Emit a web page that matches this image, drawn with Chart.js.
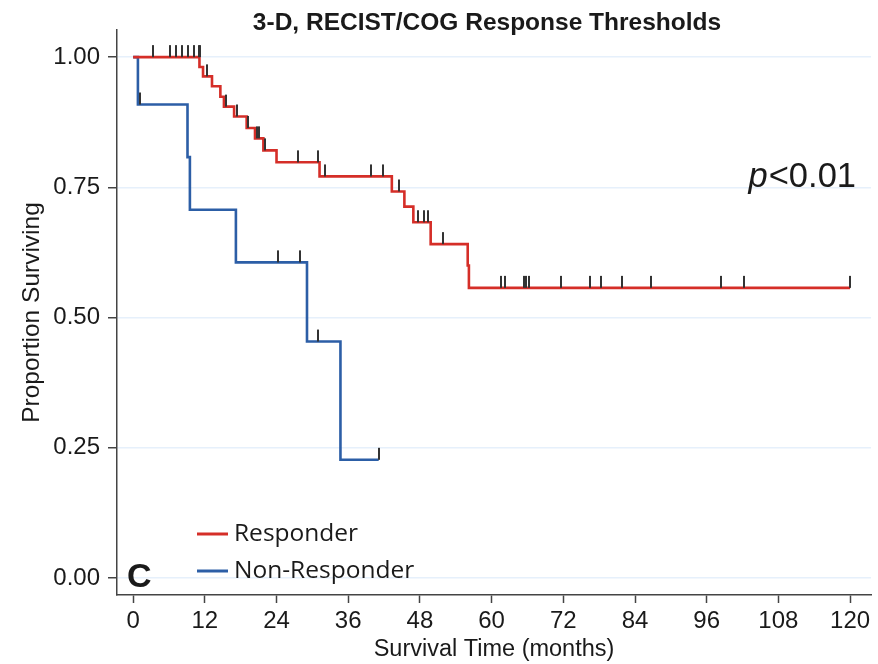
<!DOCTYPE html>
<html>
<head>
<meta charset="utf-8">
<title>3-D, RECIST/COG Response Thresholds</title>
<script src="https://cdn.jsdelivr.net/npm/chart.js@4.4.1/dist/chart.umd.min.js"></script>
<style>
  html, body { margin: 0; padding: 0; background: #fff; }
  #wrap { width: 878px; height: 664px; position: relative; }
</style>
</head>
<body>
<div id="wrap"><canvas id="kmChart"></canvas></div>
<script>
// Chart texts
const chartTitle = '3-D, RECIST/COG Response Thresholds';
const xTitle = 'Survival Time (months)';
const yTitle = 'Proportion Surviving';
const seriesNames = ['Responder', 'Non-Responder'];
const pText = ['p', '<0.01'];
const panelLetter = 'C';

// Tick labels
const xTicks = [0, 12, 24, 36, 48, 60, 72, 84, 96, 108, 120];
const yTicks = [0, 0.25, 0.5, 0.75, 1];

// Responder curve (time of each step, survival after the step)
const respTimes = [0, 11.1, 11.7, 13.2, 14.6, 15.2, 16.9, 19.0, 20.4, 21.8, 24.0, 31.2, 43.3, 45.4, 46.9, 49.8, 56.0, 56.2, 120];
const respSurv  = [1.0, 0.981, 0.963, 0.944, 0.924, 0.905, 0.886, 0.864, 0.844, 0.821, 0.798, 0.771, 0.742, 0.713, 0.683, 0.641, 0.600, 0.557, 0.557];

// Responder censored cases
const respCensorTimes = [3.4, 6.2, 7.2, 8.2, 9.2, 10.2, 11.0, 11.2, 12.3, 15.5, 17.4, 19.3, 20.8, 21.1, 22.1, 27.6, 31.0, 32.1, 39.8, 41.9, 44.5, 47.6, 48.7, 49.3, 51.9, 61.5, 62.3, 65.4, 65.8, 66.3, 71.6, 76.4, 78.3, 81.8, 86.6, 98.4, 102.3, 120.0];
const respCensorSurv  = [1, 1, 1, 1, 1, 1, 1, 1, 0.963, 0.905, 0.886, 0.864, 0.844, 0.844, 0.821, 0.798, 0.798, 0.771, 0.771, 0.771, 0.742, 0.683, 0.683, 0.683, 0.641, 0.557, 0.557, 0.557, 0.557, 0.557, 0.557, 0.557, 0.557, 0.557, 0.557, 0.557, 0.557, 0.557];

// Non-responder curve
const nonTimes = [0, 0.8, 9.1, 9.5, 17.2, 29.1, 34.7, 41.1];
const nonSurv  = [1.0, 0.909, 0.808, 0.707, 0.606, 0.454, 0.227, 0.227];

// Non-responder censored cases
const nonCensorTimes = [1.2, 24.3, 27.9, 30.9, 41.1];
const nonCensorSurv  = [0.909, 0.606, 0.606, 0.454, 0.227];

const red = 'rgb(213, 46, 40)';
const blue = 'rgb(44, 94, 166)';
const tickDark = '#333';

// build {x, y} points
function toPoints(xs, ys) {
    return xs.map((x, i) => ({ x: x, y: ys[i] }));
}

// small vertical mark sitting on top of the curve
function censorMark() {
    let c = document.createElement('canvas');
    c.width = 2;
    c.height = 26;
    let g = c.getContext('2d');
    g.fillStyle = tickDark;
    g.fillRect(0, 1, 2, 12);
    return c;
}
const mark = censorMark();

// titles, legend and annotation drawn on the canvas
const extraText = {
    id: 'extraText',
    afterDraw(chart) {
        const ctx = chart.ctx;
        const area = chart.chartArea;
        ctx.save();
        ctx.fillStyle = '#1a1a1a';

        // title
        ctx.font = 'bold 24.5px "Liberation Sans", Arial, sans-serif';
        ctx.textAlign = 'center';
        ctx.textBaseline = 'alphabetic';
        ctx.fillText(chartTitle, 487, 30);

        // p value
        ctx.textAlign = 'left';
        ctx.font = 'italic 34.5px "Liberation Sans", Arial, sans-serif';
        let pw = ctx.measureText(pText[0]).width;
        ctx.font = '34.5px "Liberation Sans", Arial, sans-serif';
        let rw = ctx.measureText(pText[1]).width;
        let px = 855 - pw - rw;
        ctx.font = 'italic 34.5px "Liberation Sans", Arial, sans-serif';
        ctx.fillText(pText[0], px, 187);
        ctx.font = '34.5px "Liberation Sans", Arial, sans-serif';
        ctx.fillText(pText[1], px + pw + 1, 187);

        // panel letter
        ctx.font = 'bold 34px "Liberation Sans", Arial, sans-serif';
        ctx.fillText(panelLetter, area.left + 10, area.bottom - 8);

        // legend
        const colors = [red, blue];
        ctx.font = '24.5px "Open Sans", "Noto Sans", sans-serif';
        ctx.lineWidth = 3;
        seriesNames.forEach((name, i) => {
            let ly = area.bottom - 61 + i * 37;
            ctx.strokeStyle = colors[i];
            ctx.beginPath();
            ctx.moveTo(area.left + 80, ly);
            ctx.lineTo(area.left + 111, ly);
            ctx.stroke();
            ctx.fillStyle = '#1a1a1a';
            ctx.textBaseline = 'middle';
            ctx.fillText(name, area.left + 117, ly);
        });
        ctx.restore();
    }
};

new Chart(document.getElementById('kmChart'), {
    type: 'line',
    data: {
        datasets: [
            {
                label: seriesNames[0] + ' censored',
                type: 'scatter',
                data: toPoints(respCensorTimes, respCensorSurv),
                pointStyle: mark,
                pointRadius: 6,
                showLine: false
            },
            {
                label: seriesNames[1] + ' censored',
                type: 'scatter',
                data: toPoints(nonCensorTimes, nonCensorSurv),
                pointStyle: mark,
                pointRadius: 6,
                showLine: false
            },
            {
                label: seriesNames[0],
                data: toPoints(respTimes, respSurv),
                borderColor: red,
                borderWidth: 2.6,
                stepped: 'before',
                pointRadius: 0,
                fill: false
            },
            {
                label: seriesNames[1],
                data: toPoints(nonTimes, nonSurv),
                borderColor: blue,
                borderWidth: 2.6,
                stepped: 'before',
                pointRadius: 0,
                fill: false
            }
        ]
    },
    options: {
        responsive: true,
        maintainAspectRatio: false,
        animation: false,
        events: [],
        layout: { padding: { top: 30, right: 0, left: 0, bottom: 0 } },
        plugins: {
            legend: { display: false },
            title: { display: false },
            tooltip: { enabled: false }
        },
        scales: {
            x: {
                type: 'linear',
                min: -2.7,
                max: 123.5,
                afterBuildTicks: (scale) => { scale.ticks = xTicks.map(v => ({ value: v })); },
                afterFit: (scale) => {
                    scale.height = 69;
                    scale.paddingLeft = 0;
                    scale.paddingRight = 0;
                },
                ticks: {
                    autoSkip: false,
                    maxRotation: 0,
                    padding: 4,
                    color: '#1a1a1a',
                    font: { family: '"Liberation Sans", Arial, sans-serif', size: 24 }
                },
                grid: {
                    drawOnChartArea: false,
                    tickLength: 8,
                    tickColor: '#444',
                    tickWidth: 1.5
                },
                border: { color: '#444', width: 1.5 },
                title: {
                    display: true,
                    text: xTitle,
                    color: '#1a1a1a',
                    padding: { top: 0, bottom: 0 },
                    font: { family: '"Liberation Sans", Arial, sans-serif', size: 23.5 }
                }
            },
            y: {
                type: 'linear',
                min: -0.0326,
                max: 1.052,
                afterBuildTicks: (scale) => { scale.ticks = yTicks.map(v => ({ value: v })); },
                afterFit: (scale) => { scale.width = 117; },
                ticks: {
                    padding: 8,
                    color: '#1a1a1a',
                    callback: (v) => v.toFixed(2),
                    font: { family: '"Liberation Sans", Arial, sans-serif', size: 24 }
                },
                grid: {
                    color: '#e6f0fb',
                    lineWidth: 1.5,
                    tickLength: 9,
                    tickColor: '#444',
                    tickWidth: 1.5
                },
                border: { color: '#444', width: 1.5 },
                title: {
                    display: true,
                    text: yTitle,
                    color: '#1a1a1a',
                    padding: { top: 18, bottom: 0 },
                    font: { family: '"Liberation Sans", Arial, sans-serif', size: 24.5 }
                }
            }
        }
    },
    plugins: [extraText]
});
</script>
</body>
</html>
